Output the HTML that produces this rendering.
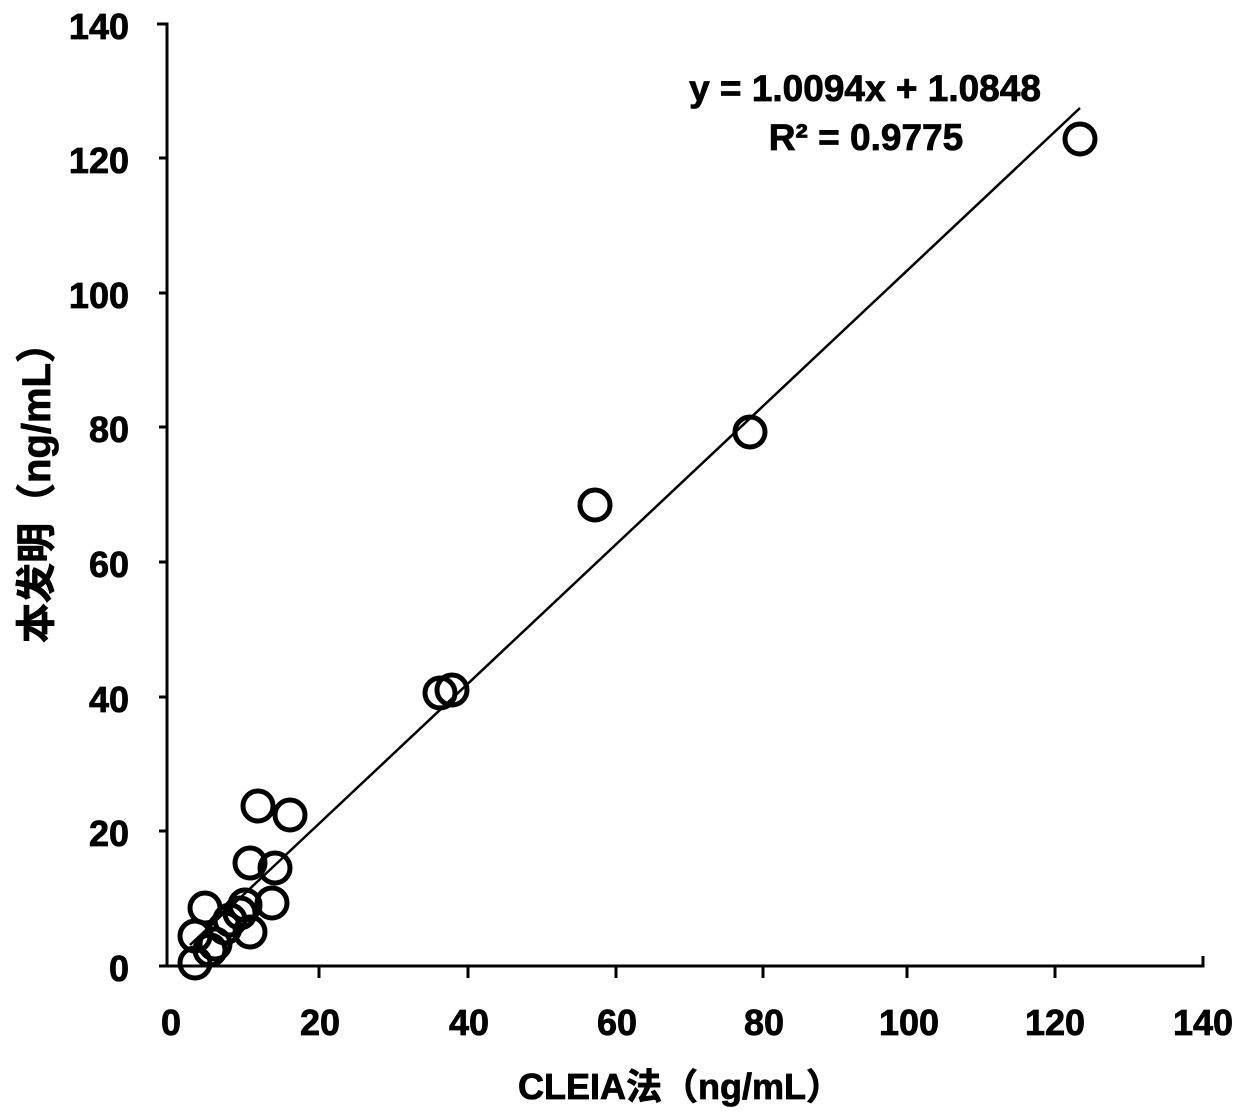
<!DOCTYPE html>
<html><head><meta charset="utf-8"><style>
html,body{margin:0;padding:0;background:#fff;}
svg{display:block}
text{font-family:"Liberation Sans","Noto Sans CJK SC",sans-serif;font-weight:bold;fill:#000;stroke:#000;stroke-width:0.8}
</style></head><body>
<svg width="1240" height="1113" viewBox="0 0 1240 1113" xmlns="http://www.w3.org/2000/svg">
<g stroke="#000" stroke-width="3" fill="none">
<path d="M157 24 H167 V966"/>
<path d="M159 966 H1203 V956"/>
<path d="M159 158 H167 M159 293 H167 M159 427 H167 M159 562 H167 M159 697 H167 M159 831 H167"/>
<path d="M319 966 V978 M468 966 V978 M616 966 V978 M763 966 V978 M907 966 V978 M1055 966 V978"/>
</g>
<g font-size="36" text-anchor="end">
<text x="129" y="39">140</text>
<text x="129" y="173">120</text>
<text x="129" y="308">100</text>
<text x="129" y="442">80</text>
<text x="129" y="577">60</text>
<text x="129" y="712">40</text>
<text x="129" y="846">20</text>
<text x="129" y="981">0</text>
</g>
<g font-size="36" text-anchor="middle">
<text x="171" y="1035">0</text>
<text x="320" y="1035">20</text>
<text x="469" y="1035">40</text>
<text x="617" y="1035">60</text>
<text x="764" y="1035">80</text>
<text x="909" y="1035">100</text>
<text x="1055" y="1035">120</text>
<text x="1203" y="1035">140</text>
</g>
<text x="680" y="1099" font-size="36" text-anchor="middle">CLEIA法（ng/mL）</text>
<text transform="translate(50,483) rotate(-90)" font-size="40" text-anchor="middle">本发明（ng/mL）</text>
<text x="865" y="101" font-size="37" text-anchor="middle">y = 1.0094x + 1.0848</text>
<text x="866" y="150" font-size="37" text-anchor="middle">R² = 0.9775</text>
<line x1="190" y1="945" x2="1080" y2="108" stroke="#000" stroke-width="2.5"/>
<g stroke="#000" stroke-width="5" fill="none">
<circle cx="1080" cy="139" r="15"/>
<circle cx="750" cy="432" r="15"/>
<circle cx="595" cy="505" r="15"/>
<circle cx="440" cy="693" r="15"/>
<circle cx="452" cy="690" r="15"/>
<circle cx="258" cy="806" r="15"/>
<circle cx="290" cy="815" r="15"/>
<circle cx="275" cy="868" r="15"/>
<circle cx="250" cy="863" r="15"/>
<circle cx="272" cy="903" r="15"/>
<circle cx="250" cy="932" r="15"/>
<circle cx="205" cy="908" r="15"/>
<circle cx="195" cy="936" r="15"/>
<circle cx="215" cy="944" r="15"/>
<circle cx="195" cy="963" r="15"/>
<circle cx="230" cy="920" r="15"/>
<circle cx="240" cy="913" r="15"/>
<circle cx="245" cy="905" r="15"/>
<circle cx="225" cy="928" r="15"/>
<circle cx="210" cy="950" r="15"/>
</g>
</svg>
</body></html>
